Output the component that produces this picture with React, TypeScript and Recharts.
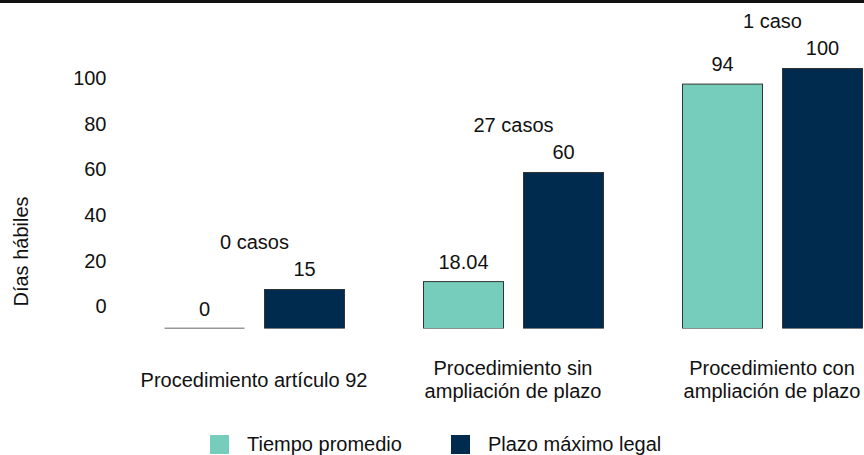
import React from "react";
import { BarChart, Bar, XAxis, YAxis, LabelList } from "recharts";

const categories = [
  "Procedimiento artículo 92",
  "Procedimiento sin\nampliación de plazo",
  "Procedimiento con\nampliación de plazo",
];
const tiempoPromedio = [0, 18.04, 94];
const plazoMaximo = [15, 60, 100];
const casos = ["0 casos", "27 casos", "1 caso"];
const yTicks = [0, 20, 40, 60, 80, 100];
const seriesNames = ["Tiempo promedio", "Plazo máximo legal"];
const seriesColors = ["#76CDBC", "#002B4F"];

const data = categories.map((c, i) => ({
  cat: c,
  tiempo: tiempoPromedio[i],
  plazo: plazoMaximo[i],
  casos: casos[i],
}));

const FONT = "'Liberation Sans', Arial, sans-serif";
const TEXT = "#111";

const BarShape = (props: any) => {
  const { x, y, width, height, fill } = props;
  if (!height || Math.abs(height) < 0.5) {
    return <line x1={x} x2={x + width} y1={y} y2={y} stroke="#333" strokeWidth={1.5} />;
  }
  return <rect x={x} y={y} width={width} height={height} fill={fill} stroke="#333" strokeWidth={1} />;
};

const CatTick = (props: any) => {
  const { x, y, payload } = props;
  const lines = String(payload.value).split("\n");
  const lh = 23;
  const center = y + 51;
  const start = center - ((lines.length - 1) * lh) / 2;
  return (
    <g>
      {lines.map((l, i) => (
        <text key={i} x={x} y={start + i * lh} textAnchor="middle" dominantBaseline="central"
          fontSize={20} fontFamily={FONT} fill={TEXT}>{l}</text>
      ))}
    </g>
  );
};

const YTick = (props: any) => {
  const { x, y, payload } = props;
  return (
    <text x={x} y={y} textAnchor="end" dominantBaseline="central" fontSize={20} fontFamily={FONT} fill={TEXT}>
      {payload.value}
    </text>
  );
};

const CasosLabel = (props: any) => {
  const { x, y, index } = props;
  return (
    <text x={x - 10} y={y - 47} textAnchor="middle" dominantBaseline="central" fontSize={20}
      fontFamily={FONT} fill={TEXT}>{casos[index]}</text>
  );
};

const YTitle = (props: any) => {
  const vb = props.viewBox || {};
  const cx = 21;
  const cy = vb.y + vb.height - 77;
  return (
    <text x={cx} y={cy} transform={`rotate(-90, ${cx}, ${cy})`} textAnchor="middle" dominantBaseline="central"
      fontSize={20} fontFamily={FONT} fill={TEXT}>Días hábiles</text>
  );
};

export default function App() {
  return (
    <div style={{ position: "fixed", left: 0, top: 0, width: 864, height: 455, overflow: "hidden", background: "#fff" }}>
      <BarChart width={920} height={455} data={data}
        margin={{ top: 20, right: 18.5, bottom: 96.5, left: 0 }}
        barGap={20} barSize={80}>
        <XAxis dataKey="cat" axisLine={false} tickLine={false} tickSize={0} tickMargin={0} height={30}
          tick={<CatTick />} interval={0} />
        <YAxis yAxisId="v" hide domain={[0, 118.65]} allowDataOverflow />
        <YAxis yAxisId="t" width={124.5} domain={[-9.83, 125.6]} ticks={yTicks} axisLine={false}
          tickLine={false} tickSize={0} tickMargin={18} tick={<YTick />} allowDataOverflow
          label={<YTitle />} />
        <Bar yAxisId="v" dataKey="tiempo" name={seriesNames[0]} fill={seriesColors[0]} shape={<BarShape />}
          isAnimationActive={false}>
          <LabelList dataKey="tiempo" position="top" offset={13}
            style={{ fontSize: 20, fontFamily: FONT, fill: TEXT }} />
        </Bar>
        <Bar yAxisId="v" dataKey="plazo" name={seriesNames[1]} fill={seriesColors[1]} shape={<BarShape />}
          isAnimationActive={false}>
          <LabelList dataKey="plazo" position="top" offset={13}
            style={{ fontSize: 20, fontFamily: FONT, fill: TEXT }} />
          <LabelList dataKey="casos" content={<CasosLabel />} />
        </Bar>
      </BarChart>
      <div style={{ position: "absolute", left: 0, top: 0, width: 864, height: 3, background: "#111" }} />
      <div style={{ position: "absolute", left: 210, top: 434, display: "flex", alignItems: "center",
        fontFamily: FONT, fontSize: 20, color: TEXT }}>
        {seriesNames.map((n, i) => (
          <div key={n} style={{ display: "flex", alignItems: "center", marginRight: i === 0 ? 49 : 0 }}>
            <div style={{ width: 19, height: 19, background: seriesColors[i], marginRight: 18 }} />
            <span style={{ lineHeight: "20px" }}>{n}</span>
          </div>
        ))}
      </div>
    </div>
  );
}
